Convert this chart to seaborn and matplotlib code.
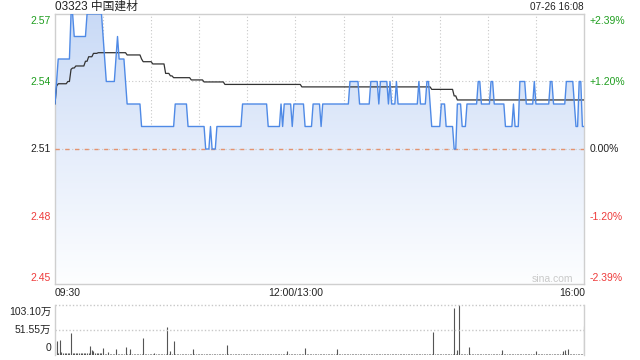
import numpy as np
import pandas as pd
import matplotlib
matplotlib.use("Agg")
import matplotlib.pyplot as plt
import seaborn as sns
from matplotlib.colors import LinearSegmentedColormap

# ---------------- data ----------------
title = "03323 中国建材"
stamp = "07-26 16:08"
prev_close = 2.51
price_ticks = [2.57, 2.54, 2.51, 2.48, 2.45]
price_tick_labels = ["2.57", "2.54", "2.51", "2.48", "2.45"]
pct_tick_labels = ["+2.39%", "+1.20%", "0.00%", "-1.20%", "-2.39%"]
time_labels = ["09:30", "12:00/13:00", "16:00"]
vol_tick_labels = ["103.10万", "51.55万", "0"]
vol_max = 103.10  # 万

# minute-by-minute price, as (start minute, level) runs
price_starts = [0, 1, 2, 10, 12, 20, 30, 31, 32, 38, 39, 40, 44, 45, 54, 75, 83, 94, 97, 98,
                101, 117, 133, 141, 142, 143, 148, 149, 156, 161, 166, 167, 184, 190, 197,
                202, 203, 208, 209, 210, 213, 214, 227, 228, 232, 234, 235, 241, 244, 249,
                251, 254, 257, 264, 266, 272, 274, 281, 286, 287, 290, 294, 299, 300, 309,
                311, 319, 324, 325, 327, 329]
price_levels = [2.53, 2.54, 2.55, 2.57, 2.56, 2.57, 2.56, 2.55, 2.54, 2.55, 2.56, 2.55, 2.54,
                2.53, 2.52, 2.53, 2.52, 2.51, 2.52, 2.51, 2.52, 2.53, 2.52, 2.53, 2.52, 2.53,
                2.52, 2.53, 2.52, 2.53, 2.52, 2.53, 2.54, 2.53, 2.54, 2.53, 2.54, 2.53, 2.54,
                2.53, 2.54, 2.53, 2.54, 2.53, 2.54, 2.53, 2.52, 2.53, 2.52, 2.51, 2.53, 2.52,
                2.53, 2.54, 2.53, 2.54, 2.53, 2.52, 2.53, 2.52, 2.54, 2.53, 2.54, 2.53, 2.54,
                2.53, 2.54, 2.53, 2.52, 2.54, 2.52]

# average price line, as (start minute, level) runs
avg_starts = [0, 1, 2, 8, 10, 11, 13, 19, 21, 24, 27, 45, 54, 55, 61, 69, 72, 74, 85, 93,
              106, 154, 235, 249, 251]
avg_levels = [2.530, 2.538, 2.539, 2.540, 2.5454, 2.546, 2.5469, 2.549, 2.551, 2.5525,
              2.5528, 2.5518, 2.5500, 2.5488, 2.5478, 2.5436, 2.5425, 2.5417, 2.5407,
              2.5398, 2.5387, 2.5376, 2.5365, 2.5336, 2.5318]

# notable volume bars (minute, 万)
vol_minutes = [0, 1, 3, 4, 5, 10, 22, 23, 24, 30, 33, 38, 44, 47, 55, 62, 70, 72, 74, 86,
               107, 145, 156, 176, 236, 249, 251, 252, 258, 279, 300, 317, 318, 320, 330]
vol_values = [25, 29, 31, 7, 4, 46, 18.5, 10, 8, 15, 5.5, 12, 17, 12, 35, 5, 58, 8, 29.5, 12,
              20.6, 8, 14, 12, 47, 97.5, 10, 103.1, 17, 10, 8, 8, 10, 12, 60]
# typical small volume per half-hour block (万)
vol_base_levels = [3.5, 3.0, 3.0, 2.8, 2.8, 2.8, 2.8, 2.8, 2.8, 3.0, 3.0]

# ---------------- build series ----------------
n = 331
minutes = np.arange(n)


def expand(starts, levels):
    out = np.empty(n)
    bounds = list(starts[1:]) + [n]
    for s, e, v in zip(starts, bounds, levels):
        out[s:e] = v
    return out


price = expand(price_starts, price_levels)
avg = expand(avg_starts, avg_levels)
vol = np.array([vol_base_levels[min(m // 30, len(vol_base_levels) - 1)] for m in minutes])
for m, v in zip(vol_minutes, vol_values):
    vol[m] = v
df = pd.DataFrame({"minute": minutes, "price": price, "avg": avg, "vol": vol})

# ---------------- style ----------------
sns.set_theme(style="white")
plt.rcParams["font.family"] = ["Liberation Sans", "Noto Sans CJK SC", "DejaVu Sans"]

GREEN = "#1f9e1f"
RED = "#ee3b3b"
BLACK = "#222222"
GRID = "#c8c8c8"
FRAME = "#cfcfcf"

W, H = 640, 360
fig = plt.figure(figsize=(6.4, 3.6), dpi=100)
fig.patch.set_facecolor("white")


def fx(px):
    return px / W


def fy(py):
    return 1 - py / H


ax = fig.add_axes([fx(55), fy(284), fx(529), 270 / H])
axv = fig.add_axes([fx(55), fy(355), fx(529), 50 / H])

# ---------------- price panel ----------------
ax.set_xlim(0, 330)
ax.set_ylim(2.45, 2.57)
ax.set_facecolor("white")

for m in range(30, 330, 30):
    ax.axvline(m, color=GRID, ls=(0, (1, 2)), lw=0.8, zorder=1)
for yv in (2.54, 2.48):
    ax.axhline(yv, color=GRID, ls=(0, (1, 2)), lw=0.8, zorder=1)

# gradient fill under price line
fill = ax.fill_between(df["minute"], df["price"], 2.45, color="none", lw=0)
cmap = LinearSegmentedColormap.from_list("g", ["#fdfeff", "#e5edfb", "#c9daf6"])
grad = np.linspace(0, 1, 256).reshape(-1, 1)
im = ax.imshow(grad, extent=[0, 330, 2.45, 2.57], origin="lower", aspect="auto",
               cmap=cmap, zorder=2, interpolation="bicubic")
im.set_clip_path(fill.get_paths()[0], transform=ax.transData)

ax.axhline(prev_close, color=GRID, ls=(0, (1, 2)), lw=0.8, zorder=3)
ax.axhline(prev_close, color="#e4936f", ls=(0, (3, 4)), lw=1.0, zorder=3)

sns.lineplot(data=df, x="minute", y="avg", ax=ax, color="#333333", lw=0.9,
             legend=False, zorder=4)
sns.lineplot(data=df, x="minute", y="price", ax=ax, color="#4f8ae6", lw=1.0,
             legend=False, zorder=5)

ax.set_xlabel("")
ax.set_ylabel("")
ax.set_xticks([])
ax.set_yticks([])
for s in ax.spines.values():
    s.set_color(FRAME)
    s.set_linewidth(1.0)

# ---------------- volume panel ----------------
axv.set_xlim(0, 330)
axv.set_ylim(0, vol_max)
axv.vlines(df["minute"], 0, df["vol"], color="#555555", lw=0.8)
axv.axhline(vol_max, color=GRID, ls=(0, (1, 1.5)), lw=1.0, clip_on=False)
axv.axhline(vol_max / 2, color=GRID, ls=(0, (1, 1.5)), lw=1.0)
axv.set_xticks([])
axv.set_yticks([])
axv.set_xlabel("")
axv.set_ylabel("")
for k in ("top", "bottom"):
    axv.spines[k].set_visible(False)
for k in ("left", "right"):
    axv.spines[k].set_color(FRAME)
    axv.spines[k].set_linewidth(1.0)

# ---------------- text ----------------
fs = 7.5
left_colors = [GREEN, GREEN, BLACK, RED, RED]
label_y = [21, 82, 149, 217, 278]
for lab, pct, c, yy in zip(price_tick_labels, pct_tick_labels, left_colors, label_y):
    fig.text(fx(51), fy(yy), lab, color=c, fontsize=fs, ha="right", va="center")
    fig.text(fx(590), fy(yy), pct, color=c, fontsize=fs, ha="left", va="center")

fig.text(fx(55), fy(293), time_labels[0], color=BLACK, fontsize=fs, ha="left", va="center")
fig.text(fx(296), fy(293), time_labels[1], color=BLACK, fontsize=fs, ha="center", va="center")
fig.text(fx(585), fy(293), time_labels[2], color=BLACK, fontsize=fs, ha="right", va="center")

for lab, yy in zip(vol_tick_labels, [311.5, 330, 348]):
    fig.text(fx(51), fy(yy), lab, color=BLACK, fontsize=fs, ha="right", va="center")

fig.text(fx(55), fy(7), title, color=BLACK, fontsize=8.5, ha="left", va="center")
fig.text(fx(584), fy(7), stamp, color=BLACK, fontsize=7.2, ha="right", va="center")
fig.text(fx(552), fy(279), "sina.com", color="#c9c9c9", fontsize=7.5, ha="center", va="center")

fig.savefig("out.png", dpi=100, facecolor="white")
